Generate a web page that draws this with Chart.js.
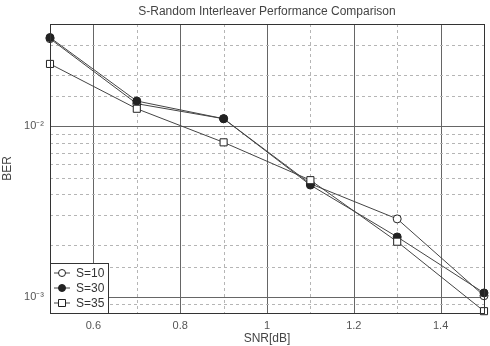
<!DOCTYPE html>
<html>
<head>
<meta charset="utf-8">
<script src="https://cdn.jsdelivr.net/npm/chart.js@4.4.0/dist/chart.umd.min.js"></script>
<style>
  html, body { margin: 0; padding: 0; background: #fff; }
  #wrap { width: 490px; height: 346px; }
</style>
</head>
<body>
<div id="wrap"><canvas id="myChart" width="490" height="346"></canvas></div>
<script>
const snr = [0.5, 0.7, 0.9, 1.1, 1.3, 1.5];
const berS10 = [0.0328, 0.0136, 0.0111, 0.0046, 0.00286, 0.00101];
const berS30 = [0.0333, 0.0141, 0.0111, 0.00452, 0.00224, 0.00105];
const berS35 = [0.0233, 0.0127, 0.00806, 0.00483, 0.0021, 0.00082];
const seriesNames = ["S=10", "S=30", "S=35"];

const titleText = "S-Random Interleaver Performance Comparison";
const FONT = "'Liberation Sans', Arial, sans-serif";

const toPoints = (ys) => snr.map((x, i) => ({ x: x, y: ys[i] }));

// draw order: S=35 on top, then S=30, then S=10
const styles = [
  { pointStyle: "circle", fill: "#fff", radius: 4, order: 2 },
  { pointStyle: "circle", fill: "#222", radius: 4, order: 1 },
  { pointStyle: "rect", fill: "#fff", radius: 5, order: 0 },
];

const datasets = [berS10, berS30, berS35].map((ys, i) => ({
  label: seriesNames[i],
  data: toPoints(ys),
  order: styles[i].order,
  borderColor: "#444",
  borderWidth: 1,
  pointStyle: styles[i].pointStyle,
  pointRadius: styles[i].radius,
  pointBackgroundColor: styles[i].fill,
  pointBorderColor: "#222",
  pointBorderWidth: 1,
  tension: 0,
  clip: false,
}));

const isMajorY = (v) => Math.abs(Math.log10(v) - Math.round(Math.log10(v))) < 1e-6;

const gridPlugin = {
  id: "grid",
  beforeDatasetsDraw(chart) {
    const { ctx, chartArea: a, scales } = chart;
    ctx.save();
    ctx.lineWidth = 1;
    scales.x.ticks.forEach((t) => {
      const k = Math.round(t.value * 10);
      const px = Math.round(scales.x.getPixelForValue(t.value)) + 0.5;
      const major = k % 2 === 0;
      ctx.strokeStyle = major ? "#666" : "#b5b5b5";
      ctx.setLineDash(major ? [] : [3, 3]);
      ctx.beginPath();
      ctx.moveTo(px, a.top);
      ctx.lineTo(px, a.bottom);
      ctx.stroke();
    });
    scales.y.ticks.forEach((t) => {
      const py = Math.round(scales.y.getPixelForValue(t.value)) + 0.5;
      const major = isMajorY(t.value);
      ctx.strokeStyle = major ? "#666" : "#b5b5b5";
      ctx.setLineDash(major ? [] : [3, 3]);
      ctx.beginPath();
      ctx.moveTo(a.left, py);
      ctx.lineTo(a.right, py);
      ctx.stroke();
    });
    ctx.restore();
  },
  afterDraw(chart) {
    const { ctx, chartArea: a } = chart;
    ctx.save();
    // frame
    ctx.strokeStyle = "#333";
    ctx.lineWidth = 1;
    ctx.setLineDash([]);
    ctx.strokeRect(Math.round(a.left) + 0.5, Math.round(a.top) + 0.5,
      Math.round(a.right - a.left), Math.round(a.bottom - a.top));
    // title
    ctx.fillStyle = "#444";
    ctx.font = "12px " + FONT;
    ctx.textAlign = "center";
    ctx.textBaseline = "middle";
    ctx.fillText(titleText, (a.left + a.right) / 2, 12);
    // legend box
    const bx = a.left, bw = 58, bh = 50, by = a.bottom - bh;
    ctx.fillStyle = "#fff";
    ctx.fillRect(bx, by, bw, bh);
    ctx.strokeStyle = "#333";
    ctx.strokeRect(Math.round(bx) + 0.5, Math.round(by) + 0.5, bw, bh);
    const legendItems = [0, 1, 2].map((i) => chart.data.datasets[i]);
    legendItems.forEach((ds, i) => {
      const y = by + 10 + i * 15;
      ctx.strokeStyle = "#444";
      ctx.beginPath();
      ctx.moveTo(bx + 4, y);
      ctx.lineTo(bx + 20, y);
      ctx.stroke();
      ctx.fillStyle = ds.pointBackgroundColor;
      ctx.strokeStyle = "#222";
      ctx.beginPath();
      if (ds.pointStyle === "rect") {
        ctx.rect(bx + 12 - 3.5, y - 3.5, 7, 7);
      } else {
        ctx.arc(bx + 12, y, 3.5, 0, Math.PI * 2);
      }
      ctx.fill();
      ctx.stroke();
      ctx.fillStyle = "#333";
      ctx.font = "12px " + FONT;
      ctx.textAlign = "left";
      ctx.fillText(ds.label, bx + 26, y + 1);
    });
    ctx.restore();
  },
};

const ctx = document.getElementById("myChart");

const config = {
  type: "line",
  data: { datasets: datasets },
  options: {
    responsive: false,
    animation: false,
    layout: { padding: { top: 24, right: 3, left: 0, bottom: 0 } },
    plugins: { legend: { display: false }, title: { display: false }, tooltip: { enabled: false } },
    scales: {
      x: {
        type: "linear",
        min: 0.5,
        max: 1.5,
        grid: { display: false, drawTicks: false },
        border: { display: false },
        ticks: {
          stepSize: 0.1,
          autoSkip: false,
          maxRotation: 0,
          padding: 6,
          color: "#555",
          font: { family: FONT, size: 11 },
          callback: (v) => {
            const k = Math.round(v * 10);
            if (k % 2 !== 0 || k === 5 || k === 15) return "";
            return String(k / 10);
          },
        },
        title: {
          display: true,
          text: "SNR[dB]",
          color: "#444",
          font: { family: FONT, size: 12 },
          padding: { top: 0, bottom: 0 },
        },
        afterFit: (s) => { s.height = 33; },
      },
      y: {
        type: "logarithmic",
        min: 0.0008,
        max: 0.04,
        grid: { display: false, drawTicks: false },
        border: { display: false },
        ticks: {
          autoSkip: false,
          padding: 6,
          color: "#555",
          font: { family: FONT, size: 11 },
          callback: (v) => {
            if (!isMajorY(v)) return "";
            const e = Math.round(Math.log10(v));
            return "10" + (e === -2 ? "\u207B\u00B2" : "\u207B\u00B3");
          },
        },
        title: {
          display: true,
          text: "BER",
          color: "#444",
          font: { family: FONT, size: 12 },
          padding: { top: 0, bottom: 6 },
        },
        afterFit: (s) => { s.width = 50; },
      },
    },
  },
  plugins: [gridPlugin],
};

const chart = new Chart(ctx, config);
</script>
</body>
</html>
